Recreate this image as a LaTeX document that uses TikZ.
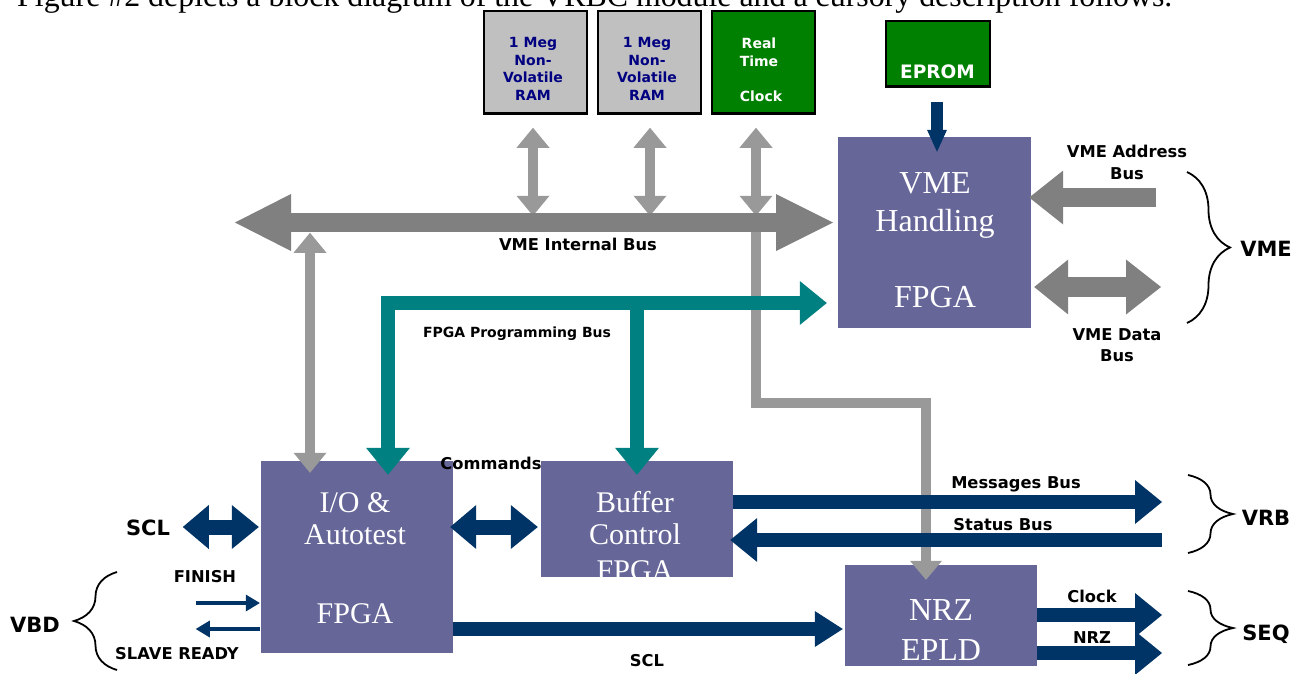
\documentclass[tikz,border=0pt]{standalone}
\usepackage{fontspec}
\setmainfont{Liberation Serif}
\newfontfamily\labelfont{DejaVu Sans}
\usetikzlibrary{arrows.meta,decorations.pathreplacing,calc}

\definecolor{boxpurple}{HTML}{666699}
\definecolor{busgray}{HTML}{808080}
\definecolor{linkgray}{HTML}{999999}
\definecolor{progteal}{HTML}{008080}
\definecolor{signavy}{HTML}{003366}
\definecolor{ramgray}{HTML}{C0C0C0}
\definecolor{ramtext}{HTML}{000080}
\definecolor{chipgreen}{HTML}{008000}

\tikzset{
  % blocks
  fpgabox/.style={rectangle, fill=boxpurple, draw=none, inner sep=0pt},
  chipbox/.style={rectangle, draw=black, line width=1.5pt, inner sep=0pt,
                  minimum width=103pt, minimum height=102pt},
  % text
  boxtext/.style={anchor=base, inner sep=0pt, text=white, font=\fontsize{32pt}{36pt}\selectfont},
  boxtextsmall/.style={anchor=base, inner sep=0pt, text=white, font=\fontsize{30pt}{34pt}\selectfont},
  chiptext/.style={anchor=base, inner sep=0pt, font={\labelfont\bfseries\fontsize{14pt}{17pt}\selectfont}},
  lbl/.style={anchor=base, inner sep=0pt, font={\labelfont\bfseries\fontsize{16.3pt}{19pt}\selectfont}},
  lblsmall/.style={anchor=base, inner sep=0pt, font={\labelfont\bfseries\fontsize{14pt}{17pt}\selectfont}},
  sidelbl/.style={anchor=base, inner sep=0pt, font={\labelfont\bfseries\fontsize{21pt}{25pt}\selectfont}},
  bracket/.style={draw=black, line width=1.8pt, decorate, decoration={brace, amplitude=#1}},
  % block arrows
  busarrow/.style={draw=busgray, line width=19pt,
     {Triangle[width=57pt,length=56pt,line width=0pt]}-{Triangle[width=57pt,length=57pt,line width=0pt]}},
  linkboth/.style={draw=linkgray, line width=10pt,
     {Triangle[width=33pt,length=20pt,line width=0pt]}-{Triangle[width=33pt,length=20pt,line width=0pt]}},
  linkto/.style={draw=linkgray, line width=10pt, line join=miter,
     -{Triangle[width=32pt,length=19pt,line width=0pt]}},
  progboth/.style={draw=progteal, line width=14pt, line join=miter,
     {Triangle[width=44pt,length=27pt,line width=0pt]}-{Triangle[width=44pt,length=27pt,line width=0pt]}},
  progto/.style={draw=progteal, line width=14pt,
     -{Triangle[width=44pt,length=27pt,line width=0pt]}},
  sigto/.style={draw=signavy, line width=14pt,
     -{Triangle[width=44pt,length=27pt,line width=0pt]}},
  sigboth/.style={draw=signavy, line width=15pt,
     {Triangle[width=44pt,length=26pt,line width=0pt]}-{Triangle[width=44pt,length=27pt,line width=0pt]}},
  sclbus/.style={draw=signavy, line width=14pt,
     -{Triangle[width=36pt,length=28pt,line width=0pt]}},
  thinsig/.style={draw=signavy, line width=4pt,
     -{Triangle[width=17pt,length=14pt,line width=0pt]}},
  eprarrow/.style={draw=signavy, line width=12pt,
     -{Triangle[width=20pt,length=22pt,line width=0pt]}},
  addrarrow/.style={draw=busgray, line width=19pt,
     -{Triangle[width=54pt,length=34pt,line width=0pt]}},
  databoth/.style={draw=busgray, line width=20pt,
     {Triangle[width=55pt,length=34pt,line width=0pt]}-{Triangle[width=55pt,length=35pt,line width=0pt]}},
}

\begin{document}
\begin{tikzpicture}[x=1pt, y=-1pt]
\useasboundingbox (0,0) rectangle (1302,673);
\clip (0,0) rectangle (1302,673);
\fill[white] (0,0) rectangle (1302,673);

% running text line above the figure
\node[anchor=base west, inner sep=0pt] (caption) at (17,6.5)
  {\resizebox{1155pt}{!}{Figure \#2 depicts a block diagram of the VRBC module and a cursory description follows.}};

% memory and clock chips
\node[chipbox, fill=ramgray] (ram1) at (535.5,62) {};
\node[chipbox, fill=ramgray] (ram2) at (649.5,62) {};
\node[chipbox, fill=chipgreen] (rtc) at (763.5,62) {};
\node[chipbox, fill=chipgreen, minimum width=104pt, minimum height=65pt] (eprom) at (938,53.5) {};
\foreach \c in {ram1,ram2,rtc,eprom}
  \draw[line width=3pt] ([yshift=0.5pt]\c.south west) -- ([yshift=0.5pt]\c.south east);

% logic blocks
\node[fpgabox, minimum width=193pt, minimum height=191pt] (vmefpga) at (934.5,232.5) {};
\node[fpgabox, minimum width=192pt, minimum height=192pt] (io) at (357,557) {};
\node[fpgabox, minimum width=192pt, minimum height=116pt] (buf) at (637,519) {};
\node[fpgabox, minimum width=192pt, minimum height=101pt] (nrz) at (941,615.5) {};

% free ends of the buses
\coordinate (busL) at (235,222.5);
\coordinate (busR) at (833,222.5);
\coordinate (bend) at (926,403);
\coordinate (addrStart) at (1156,197.5);
\coordinate (dataEnd) at (1161,287);
\coordinate (msgEnd) at (1162,502);
\coordinate (statStart) at (1162,540);
\coordinate (clkEnd) at (1162,615);
\coordinate (nrzEnd) at (1162,653);

% chip links to the internal bus
\draw[linkto] ($(rtc.south)+(-7.5,109)$) |- (bend) -- ($(nrz.north)+(-15,15)$);
\draw[linkboth] ($(ram1.south)+(-2.5,14)$) -- ($(ram1.south)+(-2.5,102)$);
\draw[linkboth] ($(ram2.south)+(0.5,14)$) -- ($(ram2.south)+(0.5,102)$);
\draw[linkboth] ($(rtc.south)+(-7.5,14)$) -- ($(rtc.south)+(-7.5,102)$);
\draw[linkboth] ($(io.north)+(-47,-228)$) -- ($(io.north)+(-47,12)$);

% VME internal bus
\draw[busarrow] (busL) -- (busR);

% FPGA programming bus
\draw[progboth] ($(io.north)+(31,14)$) |- ($(vmefpga.west)+(-11,70.5)$);
\draw[progto] ($(buf.north)+(0,-158)$) -- ($(buf.north)+(0,14)$);

% EPROM and external VME
\draw[eprarrow] ($(eprom.south)+(-1,15)$) -- ($(vmefpga.north)+(2.5,15)$);
\draw[addrarrow] (addrStart) -- ($(vmefpga.east)+(-2,-35)$);
\draw[databoth] ($(vmefpga.east)+(3,54.5)$) -- (dataEnd);

% signals around the I/O block
\draw[sigboth] ($(io.west)+(-78,-30)$) -- ($(io.west)+(-2,-30)$);
\draw[sigboth] ($(io.east)+(-3,-30)$) -- ($(buf.west)+(-3,8)$);
\draw[thinsig] ($(io.west)+(-65,46)$) -- ($(io.west)+(-1,46)$);
\draw[thinsig] ($(io.west)+(-1,72)$) -- ($(io.west)+(-65,72)$);
\draw[sclbus] ($(io.east)+(0,72)$) -- ($(nrz.west)+(-2,13.5)$);

% VRB and SEQ outputs
\draw[sigto] ($(buf.east)+(0,-17)$) -- (msgEnd);
\draw[sigto] (statStart) -- ($(buf.east)+(-3,21)$);
\draw[sigto] ($(nrz.east)+(0,-0.5)$) -- (clkEnd);
\draw[sigto] ($(nrz.east)+(0,37.5)$) -- (nrzEnd);

% grouping braces
\draw[bracket=43pt] (1187,172) -- (1187,323);
\draw[bracket=45pt] (1188,475) -- (1188,553);
\draw[bracket=45pt] (1188,591) -- (1188,665);
\draw[bracket=43pt] (117,670) -- (117,572);

% chip texts
\foreach \n/\x in {ram1/533,ram2/647} {
  \node[chiptext, text=ramtext] (\n-a) at (\x,47) {1 Meg};
  \node[chiptext, text=ramtext] (\n-b) at (\x,65) {Non-};
  \node[chiptext, text=ramtext] (\n-c) at (\x,82) {Volatile};
  \node[chiptext, text=ramtext] (\n-d) at (\x,100) {RAM};
}
\node[chiptext, text=white] (rtc-a) at (759,48) {Real};
\node[chiptext, text=white] (rtc-b) at (759,66) {Time};
\node[chiptext, text=white] (rtc-c) at (761,101) {Clock};
\node[anchor=base, inner sep=0pt, text=white, font={\labelfont\bfseries\fontsize{18.5pt}{22pt}\selectfont}] (eprom-t) at (937.5,78) {EPROM};

% block texts
\node[boxtext] (vme-a) at (935,193) {VME};
\node[boxtext] (vme-b) at (935,231) {Handling};
\node[boxtext] (vme-c) at (935,307) {FPGA};
\node[boxtextsmall] (io-a) at (355,512) {I/O \&};
\node[boxtextsmall] (io-b) at (355,544) {Autotest};
\node[boxtextsmall] (io-c) at (355,623) {FPGA};
\node[boxtextsmall] (buf-a) at (635,512) {Buffer};
\node[boxtextsmall] (buf-b) at (635,544) {Control};
\node[boxtextsmall] (buf-c) at (635,580) {FPGA};
\node[boxtext] (nrz-a) at (941,620) {NRZ};
\node[boxtext] (nrz-b) at (941,660) {EPLD};

% bus and signal labels
\node[lbl] (lblbus) at (578,250) {VME Internal Bus};
\node[lblsmall] (lblprog) at (517,337) {FPGA Programming Bus};
\node[lbl] (lblcmd) at (491,469) {Commands};
\node[lbl] (lbladdr1) at (1127,157) {VME Address};
\node[lbl] (lbladdr2) at (1127,179) {Bus};
\node[lbl] (lbldata1) at (1117,340) {VME Data};
\node[lbl] (lbldata2) at (1117,361) {Bus};
\node[lbl] (lblmsg) at (1016,488) {Messages Bus};
\node[lbl] (lblstat) at (1003,530) {Status Bus};
\node[lbl] (lblclk) at (1092,602) {Clock};
\node[lbl] (lblnrz) at (1092,643) {NRZ};
\node[lbl] (lblscl) at (647,666) {SCL};
\node[lbl] (lblfin) at (205,582) {FINISH};
\node[lbl] (lblslave) at (177,659) {SLAVE READY};

% interface names
\node[sidelbl] (sidevme) at (1266,256) {VME};
\node[sidelbl] (sidevrb) at (1266,525) {VRB};
\node[sidelbl] (sideseq) at (1266,640) {SEQ};
\node[sidelbl] (sidescl) at (148,535) {SCL};
\node[sidelbl] (sidevbd) at (35,632) {VBD};
\end{tikzpicture}
\end{document}
